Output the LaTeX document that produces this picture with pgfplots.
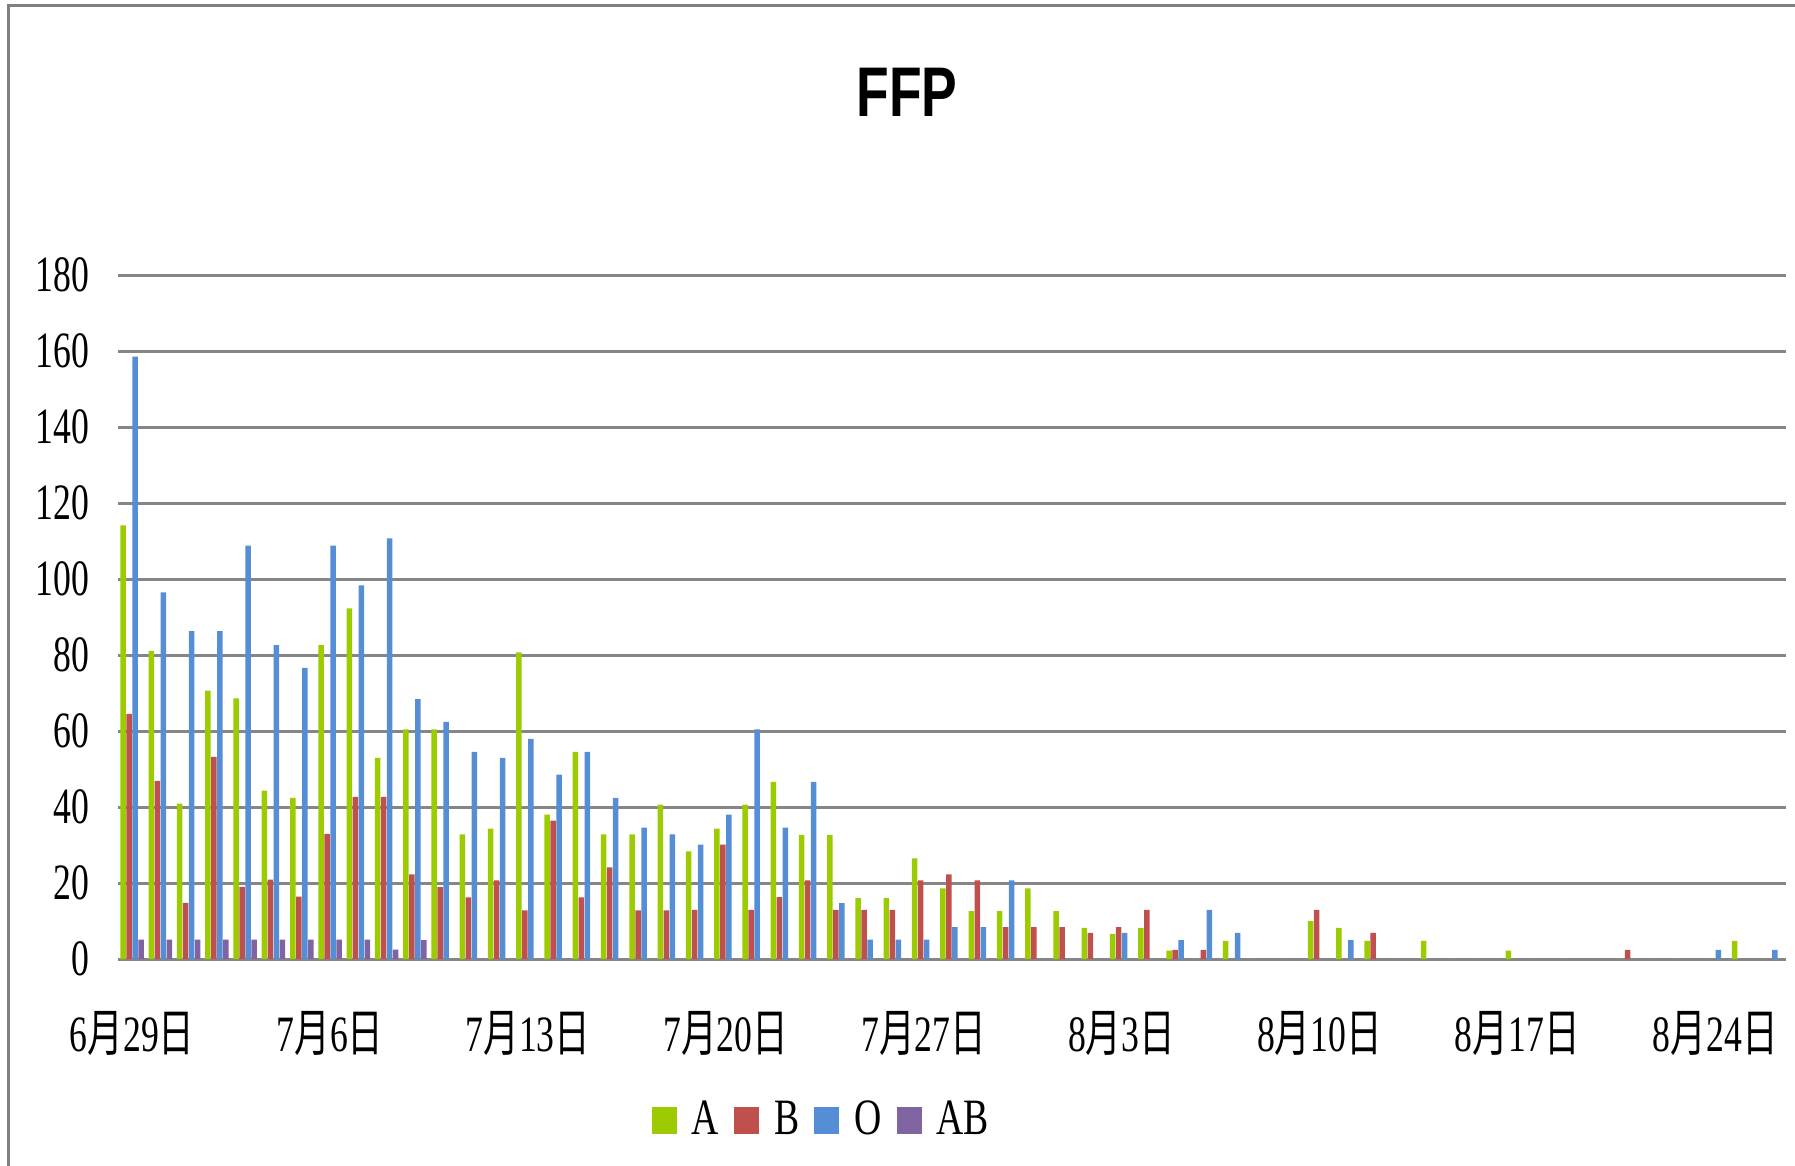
\documentclass[border=0pt]{standalone}
\usepackage{fontspec}
\setmainfont{Liberation Serif}
\newfontfamily\cjk{Noto Sans CJK TC}
\newfontfamily\titlefont{Liberation Sans}
\usepackage{graphicx}
\usepackage{pgfplots}
\usepackage{pgfplotstable}
\pgfplotsset{compat=1.18}
\definecolor{cA}{HTML}{9BCB00}
\definecolor{cB}{HTML}{C0504D}
\definecolor{cO}{HTML}{558ED5}
\definecolor{cAB}{HTML}{8064A2}
\definecolor{gridgray}{RGB}{134,134,134}
\definecolor{framegray}{RGB}{128,128,128}
\newcommand{\sx}[1]{\scalebox{0.7}[1]{#1}}
\newcommand{\lsx}[1]{\scalebox{0.74}[1]{#1}}
\newcommand{\tsx}[1]{\scalebox{0.76}[1]{#1}}
\newcommand{\dl}[2]{\sx{#1{\cjk 月}#2{\cjk 日}}}

\pgfplotstableread{
x A B O AB
0 114.1 64.5 158.5 5.1
1 81.1 46.9 96.5 5.1
2 40.9 14.8 86.3 5.1
3 70.6 53.2 86.3 5.1
4 68.6 19.0 108.8 5.1
5 44.3 20.9 82.6 5.1
6 42.4 16.4 76.6 5.1
7 82.6 32.9 108.8 5.1
8 92.3 42.7 98.3 5.1
9 52.9 42.7 110.7 2.5
10 60.4 22.3 68.4 5.0
11 60.4 18.9 62.4 0
12 32.8 16.2 54.5 0
13 34.3 20.7 52.9 0
14 80.7 12.8 57.9 0
15 38.0 36.4 48.5 0
16 54.5 16.2 54.5 0
17 32.8 24.1 42.4 0
18 32.8 12.8 34.6 0
19 40.6 12.8 32.8 0
20 28.3 12.9 30.1 0
21 34.3 30.1 38.0 0
22 40.6 12.9 60.4 0
23 46.6 16.3 34.6 0
24 32.7 20.7 46.6 0
25 32.7 12.9 14.7 0
26 16.0 12.9 5.1 0
27 16.0 12.9 5.1 0
28 26.5 20.7 5.1 0
29 18.6 22.3 8.4 0
30 12.6 20.7 8.4 0
31 12.6 8.4 20.7 0
32 18.6 8.4 0 0
33 12.6 8.4 0 0
34 8.2 6.9 0 0
35 6.6 8.4 6.9 0
36 8.2 12.9 0 0
37 2.2 2.4 5.0 0
38 0 2.4 12.9 0
39 4.8 0 6.9 0
40 0 0 0 0
41 0 0 0 0
42 10.0 12.9 0 0
43 8.2 0 5.0 0
44 4.8 6.9 0 0
45 0 0 0 0
46 4.8 0 0 0
47 0 0 0 0
48 0 0 0 0
49 2.2 0 0 0
50 0 0 0 0
51 0 0 0 0
52 0 0 0 0
53 0 2.4 0 0
54 0 0 0 0
55 0 0 0 0
56 0 0 2.4 0
57 4.8 0 0 0
58 0 0 2.4 0
}\ffp

\begin{document}
\begin{tikzpicture}
\begin{axis}[
  width=166.8mm, height=68.4mm, scale only axis,
  xmin=-0.5, xmax=58.5, ymin=0, ymax=180,
  ybar=0.05mm, bar width=0.55mm,
  axis line style={draw=none},
  ytick={0,20,...,180},
  yticklabels={\sx{0},\sx{20},\sx{40},\sx{60},\sx{80},\sx{100},\sx{120},\sx{140},\sx{160},\sx{180}},
  xtick={0,7,...,56},
  xticklabels={\dl{6}{29},\dl{7}{6},\dl{7}{13},\dl{7}{20},\dl{7}{27},\dl{8}{3},\dl{8}{10},\dl{8}{17},\dl{8}{24}},
  major tick length=0pt,
  ymajorgrids, grid style={draw=gridgray, line width=0.3mm},
  tick label style={font=\fontsize{14.5}{17}\selectfont},
  yticklabel style={anchor=east, inner sep=0pt, xshift=-2.8mm},
  xticklabel style={anchor=center, inner sep=0pt, yshift=-7.4mm},
  title={\tsx{FFP}},
  title style={font=\titlefont\bfseries\fontsize{20}{24}\selectfont, at={(0.473,1.237)}, anchor=center},
  legend columns=4,
  legend style={draw=none, fill=none, at={(0.4233,-0.2354)}, anchor=center,
    font=\fontsize{14.5}{17}\selectfont,
    /tikz/every odd column/.append style={column sep=0.8mm},
    /tikz/every even column/.append style={column sep=0.8mm}},
  legend image code/.code={\fill[#1] (0mm,-1.35mm) rectangle (2.5mm,1.35mm);},
]
\addplot[fill=cA, draw=none] table[x=x, y=A]{\ffp};
\addplot[fill=cB, draw=none] table[x=x, y=B]{\ffp};
\addplot[fill=cO, draw=none] table[x=x, y=O]{\ffp};
\addplot[fill=cAB, draw=none] table[x=x, y=AB]{\ffp};
\legend{\lsx{A},\lsx{B},\lsx{O},\lsx{AB}}
\end{axis}
\draw[color=framegray, line width=0.3mm] (-10.9mm,-21mm) -- (-10.9mm,95.3mm) -- (168mm,95.3mm);
\pgfresetboundingbox
\path[use as bounding box] (-11.8mm,-20.6mm) rectangle (167.7mm,95.9mm);
\end{tikzpicture}
\end{document}
